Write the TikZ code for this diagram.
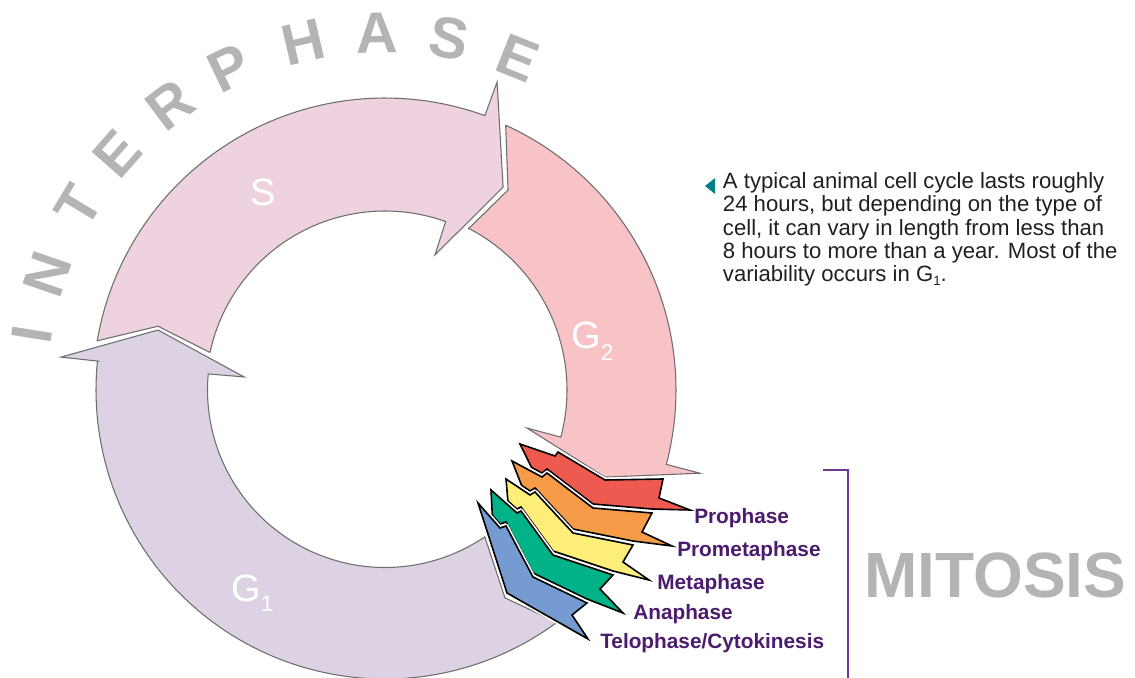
\documentclass[tikz,border=0pt]{standalone}
\usepackage{fontspec}
\setmainfont{Liberation Sans}
\usetikzlibrary{calc}
\definecolor{gone}{HTML}{DDD2E3}
\definecolor{sfill}{HTML}{EED2DF}
\definecolor{gtwo}{HTML}{F8C3C7}
\definecolor{arrowgray}{HTML}{6E6E6E}
\definecolor{cred}{HTML}{EF5A50}
\definecolor{corange}{HTML}{F69C48}
\definecolor{cyellow}{HTML}{FDEE7A}
\definecolor{cgreen}{HTML}{00B288}
\definecolor{cblue}{HTML}{769BD0}
\definecolor{lblpurple}{HTML}{4B1C6E}
\definecolor{brpurple}{HTML}{6C3A8C}
\definecolor{lettergray}{HTML}{B4B4B4}
\definecolor{bodytext}{HTML}{231F20}
\definecolor{markteal}{HTML}{00808A}
\tikzset{
  phase/.style={draw=arrowgray, line width=0.8pt, line join=miter},
  chev/.style={draw=black, line width=1.2pt, line join=miter,
    preaction={draw=white, line width=3.6pt, line join=round}},
  phaselbl/.style={text=white, font=\fontsize{28.5}{28.5}\selectfont, inner sep=0, anchor=base west},
  mitlbl/.style={text=lblpurple, font=\fontsize{15.6}{15.6}\selectfont\bfseries, anchor=base west, inner sep=0},
  bodyline/.style={text=bodytext, font=\fontsize{16.6}{17.5}\selectfont, anchor=base west, inner sep=0},
  ltr/.style={text=lettergray, font=\fontsize{43.5}{43.5}\selectfont\bfseries, inner sep=0},
}
\begin{document}
\begin{tikzpicture}[x=0.75pt,y=-0.75pt]
\fill[white] (0,0) rectangle (1135,678);
\useasboundingbox (0,0) rectangle (1135,678);
\clip (0,0) rectangle (1135,678);
\coordinate (C) at (385,390);

% G1 arrow
\path[phase, fill=gone] ($(C)+(53.5:289)$) -- ($(C)+(60:240)$) -- ($(C)+(55.8:177.5)$)
  -- plot[domain=55.8:185.2, samples=90, variable=\t] ({385+177.5*cos(\t)},{390+177.5*sin(\t)})
  -- ($(C)+(185.3:141.6)$) -- ($(C)+(194.8:234.8)$) -- ($(C)+(185.8:325.7)$) -- ($(C)+(185.75:289)$)
  -- plot[domain=185.75:53.5, samples=90, variable=\t] ({385+289*cos(\t)},{390+289*sin(\t)}) -- cycle;

% S arrow
\path[phase, fill=sfill] ($(C)+(189.7:292)$) -- ($(C)+(195.7:235.8)$) -- ($(C)+(192.1:179)$)
  -- plot[domain=192.1:289.8, samples=70, variable=\t] ({385+179*cos(\t)},{390+179*sin(\t)})
  -- ($(C)+(290.3:144)$) -- ($(C)+(300.2:234.8)$) -- ($(C)+(290:327.7)$) -- ($(C)+(290:292)$)
  -- plot[domain=290:189.7, samples=70, variable=\t] ({385+292*cos(\t)},{390+292*sin(\t)}) -- cycle;

% G2 arrow
\path[phase, fill=gtwo] ($(C)+(294.5:291)$) -- ($(C)+(301.6:234.8)$) -- ($(C)+(297.4:182)$)
  -- plot[domain=297.4:375, samples=60, variable=\t] ({385+182*cos(\t)},{390+182*sin(\t)})
  -- ($(C)+(375:147)$) -- ($(C)+(381.6:236.6)$) -- ($(C)+(374.8:325.8)$) -- ($(C)+(374.8:291)$)
  -- plot[domain=374.8:294.5, samples=60, variable=\t] ({385+291*cos(\t)},{390+291*sin(\t)}) -- cycle;

% mitosis chevrons
\draw[chev, fill=cred] (520,444) coordinate (rL) -- (555,456) -- (558,452) -- (605,480) -- (663,479) -- (659,498) -- (690,510) coordinate (rRT)
  -- (652,509) -- (593,504) -- (547,469) -- (542,473) -- (531.5,467.4) -- cycle;
\draw[chev, fill=corange] (512,461) coordinate (oL) -- (542,477) -- (547,473) -- (593,508) -- (652,513) -- (642,532) -- (672,546) coordinate (oRT)
  -- (633,541) -- (573,529) -- (535,488) -- (530,491) -- (521.6,485.4) -- cycle;
\draw[chev, fill=cyellow] (506,479) coordinate (yL) -- (530,495) -- (535,492) -- (573,533) -- (633,545) -- (623,562) -- (649,580) coordinate (yRT)
  -- (613,571) -- (553,551) -- (521,507) -- (517,509) -- (507.9,501) -- cycle;
\draw[chev, fill=cgreen] (491,490) coordinate (gL) -- (517,513) -- (521,511) -- (553,555) -- (613,575) -- (600,589) -- (623,613) coordinate (gRT)
  -- (587,599) -- (533,573) -- (506,522) -- (500,524) -- (492.3,515.3) -- cycle;
\draw[chev, fill=cblue] (478,503) coordinate (bL) -- (500,528) -- (506,526) -- (533,577) -- (587,603) -- (572,615) -- (588,639) coordinate (bRT)
  -- (507,593) -- cycle;

% phase labels
\node[phaselbl] (lS) at (250,205) {S};
\node[phaselbl] (lG1) at (231,601) {G\raisebox{-8pt}{\fontsize{17}{17}\selectfont 1}};
\node[phaselbl] (lG2) at (571,348) {G\raisebox{-9pt}{\fontsize{17}{17}\selectfont 2}};

% INTERPHASE
\node[ltr, rotate=81]   (i1)  at ($(C)+(-171:357)$)  {I};
\node[ltr, rotate=71]   (i2)  at ($(C)+(-161:357)$)  {N};
\node[ltr, rotate=59]   (i3)  at ($(C)+(-149:357)$)  {T};
\node[ltr, rotate=48.6] (i4)  at ($(C)+(-138.6:357)$) {E};
\node[ltr, rotate=37]   (i5)  at ($(C)+(-127:357)$)  {R};
\node[ltr, rotate=25.8] (i6)  at ($(C)+(-115.8:357)$) {P};
\node[ltr, rotate=13.3] (i7)  at ($(C)+(-103.3:357)$) {H};
\node[ltr, rotate=1.3]  (i8)  at ($(C)+(-91.3:357)$)  {A};
\node[ltr, rotate=-10.3] (i9) at ($(C)+(-79.7:357)$)  {S};
\node[ltr, rotate=-21.8] (i10) at ($(C)+(-68.2:357)$) {E};

% mitosis labels
\node[mitlbl] (m1) at (694,523) {Prophase};
\node[mitlbl] (m2) at (677,556) {Prometaphase};
\node[mitlbl] (m3) at (657,589) {Metaphase};
\node[mitlbl] (m4) at (633,619) {Anaphase};
\node[mitlbl] (m5) at (600,648) {Telophase/Cytokinesis};

% bracket
\coordinate (bra) at (823,470);
\coordinate (brb) at (848,470);
\coordinate (brc) at (848,678);
\draw[brpurple, line width=1.5pt] (bra) -- (brb) -- (brc);
\node[text=lettergray, font=\fontsize{48}{48}\selectfont\bfseries, anchor=base west, inner sep=0] (mit) at (864,597) {MITOSIS};

% side text
\coordinate (tA) at (705,186);
\coordinate (tB) at (715,178);
\coordinate (tC) at (715,194);
\fill[markteal] (tA) -- (tB) -- (tC) -- cycle;
\node[bodyline] (t1) at (722.7,188.3) {A typical animal cell cycle lasts roughly};
\node[bodyline] (t2) at (722.7,211.7) {24 hours, but depending on the type of};
\node[bodyline] (t3) at (722.7,235) {cell, it can vary in length from less than};
\node[bodyline] (t4) at (722.7,258.3) {8 hours to more than a year. Most of the};
\node[bodyline] (t5) at (722.7,281.7) {variability occurs in G\raisebox{-3pt}{\fontsize{10}{10}\selectfont 1}.};
\end{tikzpicture}
\end{document}
